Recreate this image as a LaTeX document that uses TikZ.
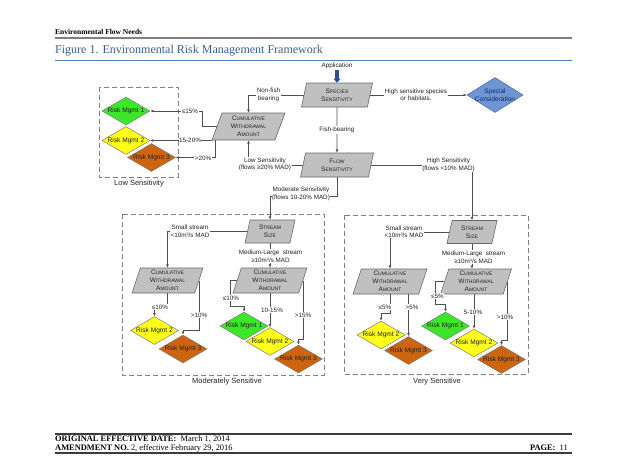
\documentclass[tikz,border=0pt]{standalone}
\usepackage{fontspec}
\setmainfont{Liberation Sans}
\newfontfamily\timesf{Liberation Serif}
\usetikzlibrary{shapes.geometric,arrows.meta,calc}
\definecolor{txt}{RGB}{35,35,35}
\definecolor{linec}{RGB}{80,80,80}
\definecolor{gfill}{RGB}{192,192,192}
\definecolor{gline}{RGB}{105,105,105}
\definecolor{dline}{RGB}{125,125,125}
\definecolor{rmg}{RGB}{60,230,40}
\definecolor{rmy}{RGB}{255,255,25}
\definecolor{rmo}{RGB}{205,100,15}
\definecolor{spfill}{RGB}{110,150,215}
\definecolor{spline}{RGB}{70,100,160}
\definecolor{sptext}{RGB}{20,40,90}
\definecolor{appblue}{RGB}{40,80,150}
\definecolor{titlec}{RGB}{54,95,145}
\definecolor{tblue}{RGB}{79,129,189}
\definecolor{hgray}{RGB}{128,128,128}
\definecolor{fgray}{RGB}{60,60,60}
\definecolor{boxgray}{RGB}{128,128,128}
\newcommand\sct[2]{#1{\fontsize{5}{8}\selectfont #2}}
\begin{document}
\begin{tikzpicture}[x=1pt,y=-1pt,
  para/.style={trapezium, trapezium left angle=68, trapezium right angle=112,
    trapezium stretches body, draw=gline, fill=gfill, line width=0.6pt,
    minimum width=72pt, minimum height=25pt, inner sep=0pt, align=center,
    font=\fontsize{6.5}{8}\selectfont, text=txt},
  rm/.style={diamond, aspect=1.7, inner sep=0pt, minimum width=48pt,
    minimum height=28pt, draw=dline, line width=0.5pt,
    font=\fontsize{6.6}{8}\selectfont, text=txt},
  edge/.style={draw=linec, line width=0.6pt, -{Latex[length=3.2pt,width=2.8pt]}},
  lab/.style={fill=white, inner sep=0.6pt, align=center,
    font=\fontsize{6.3}{7.5}\selectfont, text=txt},
  boxlab/.style={inner sep=0pt, font=\fontsize{7.5}{9}\selectfont, text=txt},
  dbox/.style={draw=boxgray, line width=0.8pt, dash pattern=on 5pt off 3pt},
  foot/.style={anchor=base west, inner sep=0pt, font=\timesf\fontsize{8.4}{9}\selectfont},
  ]
\fill[white] (0,0) rectangle (625,463);
\useasboundingbox (0,0) rectangle (625,463);

% header
\node[anchor=west, inner sep=0pt, font=\timesf\bfseries\fontsize{7.5}{9}\selectfont] (hdr) at (55,32) {Environmental Flow Needs};
\draw[hgray, line width=1.2pt] (55,38) -- (572,38);
\node[anchor=west, inner sep=0pt, text=titlec, font=\timesf\fontsize{12}{14}\selectfont] (ttl) at (55,51) {Figure 1. Environmental Risk Management Framework};
\draw[tblue, line width=0.6pt] (55,60.5) -- (572,60.5);
\draw[tblue, line width=1.8pt] (55,60.5) -- (98,60.5);
\draw[tblue, line width=1.8pt] (528,60.5) -- (572,60.5);

% dashed group boxes
\draw[dbox] (99,87) rectangle (178,177);
\draw[dbox] (122,214) rectangle (324,375);
\draw[dbox] (344,215) rectangle (528,374);
\node[boxlab] (blow) at (139,184) {Low Sensitivity};
\node[boxlab] (bmod) at (227,382) {Moderately Sensitive};
\node[boxlab] (bvery) at (437,382) {Very Sensitive};

% top nodes
\node[inner sep=0pt, font=\fontsize{6.3}{7.5}\selectfont, text=txt] (app) at (337,65.5) {Application};
\node[para, minimum width=71pt, minimum height=24pt] (sp) at (337,95) {\sct{S}{PECIES}\\\sct{S}{ENSITIVITY}};
\node[para, minimum width=73pt, minimum height=24pt] (fl) at (337,165) {\sct{F}{LOW}\\\sct{S}{ENSITIVITY}};
\node[para, trapezium left angle=64, trapezium right angle=116, minimum width=73pt, minimum height=27pt] (cl) at (248.5,126.5) {\sct{C}{UMULATIVE}\\\sct{W}{ITHDRAWAL}\\\sct{A}{MOUNT}};
\node[diamond, aspect=1.6, inner sep=0pt, minimum width=56pt, minimum height=35pt, draw=spline, fill=spfill, line width=0.5pt] (sc) at (495,95) {};
\node[align=center, inner sep=0pt, text=sptext, font=\fontsize{6.5}{7.5}\selectfont] (sctxt) at (sc.center) {Special\\Consideration};

% low sensitivity diamonds
\node[rm, fill=rmg] (lg1) at (126,111) {Risk Mgmt 1};
\node[rm, fill=rmy] (ly2) at (126,140.5) {Risk Mgmt 2};
\node[rm, fill=rmo] (lo3) at (151.5,157.5) {Risk Mgmt 3};

% moderately sensitive
\node[para, minimum width=50pt, minimum height=23pt] (ssm) at (270,231.5) {\sct{S}{TREAM}\\\sct{S}{IZE}};
\node[para, minimum width=71pt] (cml) at (167.5,280.5) {\sct{C}{UMULATIVE}\\\sct{W}{ITHDRAWAL}\\\sct{A}{MOUNT}};
\node[para, minimum width=74pt] (cmr) at (270,280.5) {\sct{C}{UMULATIVE}\\\sct{W}{ITHDRAWAL}\\\sct{A}{MOUNT}};
\node[rm, fill=rmy] (mly2) at (154.5,330.5) {Risk Mgmt 2};
\node[rm, fill=rmo] (mlo3) at (183,349) {Risk Mgmt 3};
\node[rm, fill=rmg] (mrg1) at (244,326) {Risk Mgmt 1};
\node[rm, fill=rmy] (mry2) at (270,341.5) {Risk Mgmt 2};
\node[rm, fill=rmo] (mro3) at (298.5,359) {Risk Mgmt 3};

% very sensitive
\node[para, minimum width=50pt, minimum height=23pt] (ssv) at (472,232) {\sct{S}{TREAM}\\\sct{S}{IZE}};
\node[para, minimum width=74pt] (cvl) at (390,281.5) {\sct{C}{UMULATIVE}\\\sct{W}{ITHDRAWAL}\\\sct{A}{MOUNT}};
\node[para, minimum width=71pt] (cvr) at (476,281.5) {\sct{C}{UMULATIVE}\\\sct{W}{ITHDRAWAL}\\\sct{A}{MOUNT}};
\node[rm, fill=rmy] (vly2) at (381,335) {Risk Mgmt 2};
\node[rm, fill=rmo] (vlo3) at (408.5,350.5) {Risk Mgmt 3};
\node[rm, fill=rmg] (vrg1) at (445.5,326) {Risk Mgmt 1};
\node[rm, fill=rmy] (vry2) at (474,343) {Risk Mgmt 2};
\node[rm, fill=rmo] (vro3) at (501.5,359.5) {Risk Mgmt 3};

% connectors
\draw[appblue, line width=3.6pt, -{Triangle[length=4pt,width=7pt]}, shorten <=1.5pt] (app.south) -- (sp.north);
\draw[edge] (sp.east) -- (sp.east -| sc.west);
\draw[edge] (sp.west) -| (cl.north);
\draw[edge] (sp.south) -- (fl.north);
\draw[edge] (fl.west) -| (cl.south);
\draw[edge] (fl.south) -- ++(0,19) -| (ssm.north);
\draw[edge] (fl.east) -| (ssv.north);
\draw[edge] (cl.west) -- ++(-14.5,0) |- (lg1.east);
\draw[edge] (cl.bottom left corner |- ly2.east) -- (ly2.east);
\draw[edge] ([xshift=4pt]cl.bottom left corner) |- (lo3.east);

\draw[edge] (ssm.west) -| (cml.north);
\draw[edge] (ssm.south) -- (ssm.south |- cmr.north);
\draw[edge] (cml.south) |- ([yshift=7pt]mly2.north) -- (mly2.north);
\draw[edge] (cml.east) |- ([yshift=4pt]mlo3.north) -- (mlo3.north);
\draw[edge] (cmr.west) -- ++(-7,0) |- ([yshift=5pt]mrg1.north) -- (mrg1.north);
\draw[edge] (cmr.south) -- (cmr.south |- mry2.north);
\draw[edge] (cmr.east) |- ([yshift=5pt]mro3.north) -- (mro3.north);

\draw[edge] (ssv.west) -| (cvl.north);
\draw[edge] (ssv.south) -- (ssv.south |- cvr.north);
\draw[edge] (cvl.south) |- ([yshift=7pt]vly2.north) -- (vly2.north);
\draw[edge] (cvl.south -| vlo3.north) -- (vlo3.north);
\draw[edge] (cvr.west) -- ++(-9,0) |- ([yshift=7pt]vrg1.north) -- (vrg1.north);
\draw[edge] (cvr.south -| vry2.north) -- (vry2.north);
\draw[edge] (cvr.east) |- ([yshift=5pt]vro3.north) -- (vro3.north);

% connector labels
\node[lab] (t1) at (268.5,95) {Non-fish\\bearing};
\node[lab] (t2) at (337,130) {Fish-bearing};
\node[lab] (t3) at (416,94.5) {High sensitive species\\or habitats.};
\node[lab] (t4) at (265,164.5) {Low Sensitivity\\(flows ≥20\% MAD)};
\node[lab] (t5) at (301,194) {Moderate Sensitivity\\(flows 10-20\% MAD)};
\node[lab] (t6) at (448.5,165) {High Sensitivity\\(flows <10\% MAD)};
\node[lab] (t7) at (190,111) {≤15\%};
\node[lab] (t8) at (190,140.5) {15-20\%};
\node[lab] (t9) at (203,158) {>20\%};

\node[lab] (m1) at (190,231) {Small stream\\<10m³/s MAD};
\node[lab] (m2) at (270.5,256) {Medium-Large\ \ stream\\≥10m³/s MAD};
\node[lab] (m3) at (160,307) {≤10\%};
\node[lab] (m4) at (199,315) {>10\%};
\node[lab] (m5) at (231,298) {≤10\%};
\node[lab] (m6) at (272,310) {10-15\%};
\node[lab] (m7) at (303,315) {>15\%};

\node[lab] (v1) at (404,231.5) {Small stream\\<10m³/s MAD};
\node[lab] (v2) at (473.5,257) {Medium-Large\ \ stream\\≥10m³/s MAD};
\node[lab] (v3) at (385,307) {≤5\%};
\node[lab] (v4) at (412,307) {>5\%};
\node[lab] (v5) at (437.5,296) {≤5\%};
\node[lab] (v6) at (473,312) {5-10\%};
\node[lab] (v7) at (505,317) {>10\%};

% footer
\draw[fgray, line width=1.5pt] (55,434.2) -- (572,434.2);
\node[foot] (f1) at (55,441.6) {\textbf{ORIGINAL EFFECTIVE DATE:}\ \ March 1, 2014};
\node[foot] (f2) at (55,450) {\textbf{AMENDMENT NO.} 2, effective February 29, 2016};
\node[foot, anchor=base east] (pg) at (568,450) {\textbf{PAGE:}\ \ 11};
\draw[fgray, line width=1.5pt] (55,453.2) -- (572,453.2);
\end{tikzpicture}
\end{document}
